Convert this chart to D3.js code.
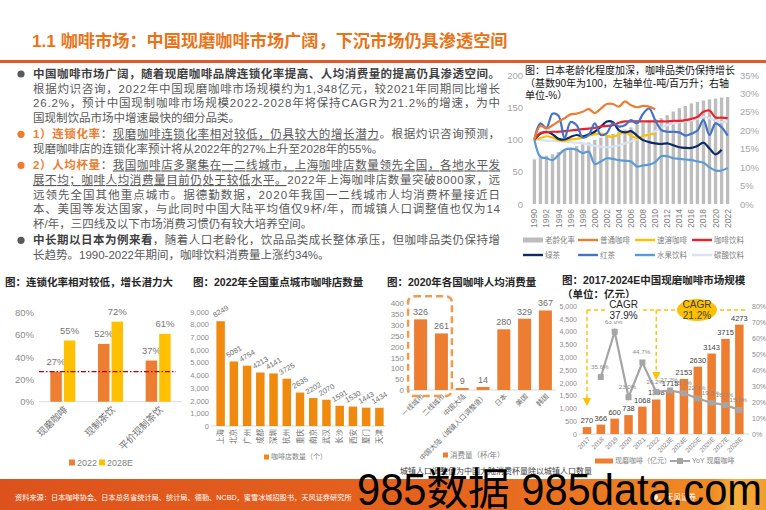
<!DOCTYPE html>
<html><head><meta charset="utf-8">
<script src="https://cdn.jsdelivr.net/npm/d3@7/dist/d3.min.js"></script>
<style>
body{margin:0;background:#fff;}
svg{display:block;font-family:"Liberation Sans","Noto Sans CJK SC",sans-serif;}
</style></head><body>
<svg id="c" width="766" height="510"></svg>
<script>
// ---------------- DATA ----------------
const pageTitle = "1.1 咖啡市场：中国现磨咖啡市场广阔，下沉市场仍具渗透空间";
const paragraphs = [
  {bullet:"#595959", lines:[
    [["中国咖啡市场广阔，随着现磨咖啡品牌连锁化率提高、人均消费量的提高仍具渗透空间。","b"]],
    [["根据灼识咨询，2022年中国现磨咖啡市场规模约为1,348亿元，较2021年同期同比增长","n"]],
    [["26.2%，预计中国现制咖啡市场规模2022-2028年将保持CAGR为21.2%的增速，为中","n"]],
    [["国现制饮品市场中增速最快的细分品类。","n"]]]},
  {bullet:"#ED7D31", lines:[
    [["1）连锁化率","o"],["：","n"],["现磨咖啡连锁化率相对较低，仍具较大的增长潜力","u"],["。根据灼识咨询预测，","n"]],
    [["现磨咖啡店的连锁化率预计将从2022年的27%上升至2028年的55%。","n"]]]},
  {bullet:"#ED7D31", lines:[
    [["2）人均杯量","o"],["：","n"],["我国咖啡店多聚集在一二线城市，上海咖啡店数量领先全国，各地水平发","u"]],
    [["展不均；咖啡人均消费量目前仍处于较低水平。","u"],["2022年上海咖啡店数量突破8000家，远","n"]],
    [["远领先全国其他重点城市。据德勤数据，2020年我国一二线城市人均消费杯量接近日","n"]],
    [["本、美国等发达国家，与此同时中国大陆平均值仅9杯/年，而城镇人口调整值也仅为14","n"]],
    [["杯/年，三四线及以下市场消费习惯仍有较大培养空间。","n"]]]},
  {bullet:"#595959", lines:[
    [["中长期以日本为例来看","b"],["，随着人口老龄化，饮品品类成长整体承压，但咖啡品类仍保持增","n"]],
    [["长趋势。1990-2022年期间，咖啡饮料消费量上涨约34%。","n"]]]}
];

// Japan chart
const jpTitle = ["图：日本老龄化程度加深，咖啡品类仍保持增长","（基数90年为100，左轴单位-吨/百万升；右轴","单位-%）"];
const jpYears = [1990,1991,1992,1993,1994,1995,1996,1997,1998,1999,2000,2001,2002,2003,2004,2005,2006,2007,2008,2009,2010,2011,2012,2013,2014,2015,2016,2017,2018,2019,2020,2021,2022];
const jpYearLabels = [1990,1992,1994,1996,1998,2000,2002,2004,2006,2008,2010,2012,2014,2016,2018,2020,2022];
const agingRate = [12.1,12.6,13.1,13.5,14.1,14.6,15.1,15.7,16.2,16.7,17.4,18.0,18.5,19.0,19.5,20.2,20.8,21.5,22.1,22.7,23.0,23.3,24.1,25.1,26.0,26.6,27.3,27.7,28.1,28.4,28.6,28.9,29.0];
const plainCoffee = [100,121,117,122,128,133,139,140,143,147,141,148,155,155,151,159,153,150,152,151,147,null,null,null,null,null,null,null,null,null,null,null,null];
const instantCoffee = [100,102,105,103,99,98,100,101,103,106,108,109,106,104,108,111,106,102,105,108,108,null,null,null,null,null,null,null,null,null,null,null,null];
const coffeeDrinks = [100,110,111,112,112,113,114,115,116,117,118,120,121,122,126,128,128,128,128,128,128,128,128,129,129,130,132,135,143,145,134,134,133];
const greenTea = [100,109,112,108,101,100,104,107,105,108,112,120,128,127,114,111,113,106,99,96,94,93,94,91,88,87,87,90,95,86,77,84,null];
const blackTea = [100,125,118,140,137,102,127,122,103,107,125,107,110,125,120,122,130,125,140,148,130,115,112,112,111,106,109,114,130,107,125,119,106];
const fruitDrinks = [100,73,71,68,76,84,86,84,79,81,62,66,71,70,68,67,66,58,60,61,65,74,74,71,70,69,68,66,64,57,52,52,56];
const sodaDrinks = [100,99,98,98,97,97,96,95,94,92,90,89,88,89,91,94,97,100,104,108,113,118,122,125,127,128,130,132,135,133,129,127,128];
const jpLeftTicks = [0,50,100,150,200];
const jpRightTicks = [0,5,10,15,20,25,30,35];
const jpSeriesNames = ["老龄化率","普通咖啡","速溶咖啡","咖啡饮料","绿茶","红茶","水果饮料","碳酸饮料"];

// Chart 1
const chainTitle = "图：连锁化率相对较低，增长潜力大";
const chainCats = ["现磨咖啡","现制茶饮","平价现制茶饮"];
const chainKeys = ["2022","2028E"];
const chain2022 = [27,52,37];
const chain2028 = [55,72,61];
const chainTicks = [0,20,40,60,80];
const chainRef = 27;

// Chart 2
const storeTitle = "图：2022年全国重点城市咖啡店数量";
const cities = ["上海","北京","广州","成都","深圳","杭州","重庆","南京","武汉","长沙","西安","厦门","天津"];
const storeCounts = [8249,5081,4754,4213,4141,3725,2635,2202,2070,1591,1530,1443,1434];
const storeTicks = [0,1000,2000,3000,4000,5000,6000,7000,8000,9000];
const storeLegend = "咖啡店数量（个）";

// Chart 3
const cupTitle = "图：2020年各国咖啡人均消费量";
const regions = ["一线城市","二线城市","中国大陆","中国大陆（城镇人口调整值）","日本","美国","韩国"];
const cups = [326,261,9,14,280,329,367];
const cupTicks = [0,50,100,150,200,250,300,350,400];
const cupLegend = "消费量（杯/年）";
const cupNote = "城镇人口调整值为中国大陆消费杯量除以城镇人口数量";

// Chart 4
const mktTitle = ["图：2017-2024E中国现磨咖啡市场规模","（单位：亿元）"];
const mktYears = ["2017","2018","2019","2020","2021","2022","2023E","2024E","2025E","2026E","2027E","2028E"];
const mktSize = [270,366,600,738,1068,1348,1715,2153,2630,3143,3715,4273];
const mktYoY = [null,35.6,63.9,23.0,44.7,26.2,27.2,25.5,22.2,19.5,18.2,15.0];
const mktTicksL = [0,500,1000,1500,2000,2500,3000,3500,4000,4500,5000];
const mktTicksR = [0,10,20,30,40,50,60,70,80];
const mktLegend = ["现磨咖啡（亿元）","YoY 现磨咖啡"];
const cagrA = ["CAGR","37.9%"];
const cagrB = ["CAGR","21.2%"];

const sourceText = "资料来源：日本咖啡协会、日本总务省统计局、统计局、德勤、NCBD，蜜雪冰城招股书，天风证券研究所";
const watermark = "985数据 985data.com";

// ---------------- DRAW ----------------
const FONT = '"Liberation Sans","Noto Sans CJK SC",sans-serif';
const svg = d3.select("#c");
const defs = svg.append("defs");

function styleAxis(g, size, color){
  g.attr("font-family", FONT).attr("font-size", size);
  g.select(".domain").remove();
  g.selectAll("line").remove();
  g.selectAll("text").attr("fill", color);
}

// Title
svg.append("text").attr("x",32).attr("y",47).attr("font-size",17.2).attr("font-weight","bold")
  .attr("fill","#EA7317").text(pageTitle);
svg.append("rect").attr("x",0).attr("y",60).attr("width",766).attr("height",3).attr("fill","#E0592B");

// Paragraphs
(function(){
  const g = svg.append("g").attr("font-size",11.5);
  let y = 78;
  paragraphs.forEach((p, pi) => {
    if (pi > 0) y += 16.5;
    p.lines.forEach((line, li) => {
      if (li > 0) y += 14.6;
      if (li === 0) g.append("circle").attr("cx",21).attr("cy",y-4).attr("r",3.6).attr("fill",p.bullet);
      const t = g.append("text").attr("x",33).attr("y",y);
      if (li < p.lines.length-1) t.attr("textLength",467).attr("lengthAdjust","spacing");
      line.forEach(([s, st]) => {
        const ts = t.append("tspan").text(s);
        if (st === "b") ts.attr("font-weight","bold").attr("fill","#3F3F3F");
        else if (st === "o") ts.attr("font-weight","bold").attr("fill","#ED7D31");
        else if (st === "u") ts.attr("fill","#595959").style("text-decoration","underline");
        else ts.attr("fill","#595959");
      });
    });
  });
})();

// ---------- Japan chart ----------
(function(){
  const g = svg.append("g");
  jpTitle.forEach((t,i)=> g.append("text").attr("x",525).attr("y",[73.5,86.5,98.5][i])
    .attr("font-size",10).attr("fill","#111").text(t));
  const x = d3.scaleBand().domain(jpYears).range([530,732]).padding(0.45);
  const yL = d3.scaleLinear().domain([0,200]).range([204,75]);
  const yR = d3.scaleLinear().domain([0,35]).range([204,75]);
  const cx = d => x(d) + x.bandwidth()/2;
  g.append("g").selectAll("rect").data(jpYears).join("rect")
    .attr("x", d=>x(d)).attr("width", x.bandwidth())
    .attr("y", (d,i)=>yR(agingRate[i])).attr("height",(d,i)=>yR(0)-yR(agingRate[i]))
    .attr("fill","#BDBDBD");
  const series = [
    {v:sodaDrinks, c:"#D9E2F3"},
    {v:fruitDrinks, c:"#5B9BD5"},
    {v:instantCoffee, c:"#FFC000"},
    {v:greenTea, c:"#0E2A66"},
    {v:coffeeDrinks, c:"#F0202A"},
    {v:blackTea, c:"#4472C4"},
    {v:plainCoffee, c:"#ED7D31"}
  ];
  const line = d3.line().defined(d=>d.v!=null).x(d=>cx(d.y)).y(d=>yL(d.v)).curve(d3.curveCatmullRom.alpha(0.5));
  series.forEach(s=>{
    g.append("path").datum(jpYears.map((y,i)=>({y, v:s.v[i]})))
      .attr("d", line).attr("fill","none").attr("stroke",s.c).attr("stroke-width",2.2);
  });
  const aL = g.append("g").attr("transform","translate(526,0)")
    .call(d3.axisLeft(yL).tickValues(jpLeftTicks).tickSize(0).tickPadding(3));
  styleAxis(aL, 9.5, "#A6A6A6");
  const aR = g.append("g").attr("transform","translate(737,0)")
    .call(d3.axisRight(yR).tickValues(jpRightTicks).tickFormat(d=>d+"%").tickSize(0).tickPadding(3));
  styleAxis(aR, 9.5, "#A6A6A6");
  g.append("g").selectAll("text").data(jpYearLabels).join("text")
    .attr("transform", d=>`translate(${cx(d)},209) rotate(-90)`)
    .attr("text-anchor","end").attr("dy","0.35em").attr("font-size",8.5).attr("fill","#808080").text(d=>d);
  // legend
  const cols = [523,578,635,692];
  const lcol = ["#BDBDBD","#ED7D31","#FFC000","#F0202A","#0E2A66","#4472C4","#5B9BD5","#D9E2F3"];
  jpSeriesNames.forEach((n,i)=>{
    const lx = cols[i%4], ly = i<4 ? 240 : 255;
    g.append("rect").attr("x",lx).attr("y", i===0 ? ly-2.5 : ly-1.2).attr("width",20).attr("height", i===0?5:2.4).attr("fill",lcol[i]);
    g.append("text").attr("x",lx+22).attr("y",ly).attr("dy","0.35em").attr("font-size",7.5).attr("fill","#7F7F7F").text(n);
  });
})();

// ---------- Section titles ----------
svg.append("text").attr("x",5).attr("y",286).attr("font-size",10.5).attr("font-weight","bold").attr("fill","#262626").text(chainTitle);
svg.append("text").attr("x",193).attr("y",286).attr("font-size",10.5).attr("font-weight","bold").attr("fill","#262626").text(storeTitle);
svg.append("text").attr("x",387).attr("y",286).attr("font-size",10.5).attr("font-weight","bold").attr("fill","#262626").text(cupTitle);
svg.append("text").attr("x",562).attr("y",284).attr("font-size",10.5).attr("font-weight","bold").attr("fill","#262626").text(mktTitle[0]);
svg.append("text").attr("x",562).attr("y",298).attr("font-size",10.5).attr("font-weight","bold").attr("fill","#262626").text(mktTitle[1]);

// ---------- Chart 1 ----------
(function(){
  const g = svg.append("g");
  const x0 = d3.scaleBand().domain(chainCats).range([39,182]).paddingInner(0.475).paddingOuter(0.2375);
  const x1 = d3.scaleBand().domain(chainKeys).range([0,x0.bandwidth()]).paddingInner(0.15);
  const y = d3.scaleLinear().domain([0,80]).range([401.7,312.7]);
  const colors = {"2022":"#ED7D31","2028E":"#FFC000"};
  const vals = {"2022":chain2022,"2028E":chain2028};
  const ay = g.append("g").attr("transform","translate(37,0)")
    .call(d3.axisLeft(y).tickValues(chainTicks).tickFormat(d=>d+"%").tickSize(0).tickPadding(3));
  styleAxis(ay, 9.5, "#8C8C8C");
  g.append("line").attr("x1",39).attr("x2",182).attr("y1",y(0)).attr("y2",y(0)).attr("stroke","#D9D9D9");
  chainKeys.forEach(k=>{
    g.append("g").selectAll("rect").data(chainCats).join("rect")
      .attr("x", d=>x0(d)+x1(k)).attr("width", x1.bandwidth())
      .attr("y",(d,i)=>y(vals[k][i])).attr("height",(d,i)=>y(0)-y(vals[k][i]))
      .attr("fill",colors[k]);
    g.append("g").selectAll("text").data(chainCats).join("text")
      .attr("x", d=>x0(d)+x1(k)+x1.bandwidth()/2).attr("y",(d,i)=>y(vals[k][i])-7)
      .attr("text-anchor","middle").attr("font-size",9.5).attr("fill","#757575")
      .text((d,i)=>vals[k][i]+"%");
  });
  g.append("line").attr("x1",39).attr("x2",176).attr("y1",y(chainRef)).attr("y2",y(chainRef))
    .attr("stroke","#C00000").attr("stroke-width",1.2).attr("stroke-dasharray","5,2,1.5,2");
  g.append("g").selectAll("text").data(chainCats).join("text")
    .attr("transform", d=>`translate(${x0(d)+x0.bandwidth()/2+3},408) rotate(-45)`)
    .attr("text-anchor","end").attr("dy","0.35em").attr("font-size",9.5).attr("fill","#6F6F6F").text(d=>d);
  chainKeys.forEach((k,i)=>{
    const lx = [69,99][i];
    g.append("rect").attr("x",lx).attr("y",459.5).attr("width",6).attr("height",6).attr("fill",colors[k]);
    g.append("text").attr("x",lx+8).attr("y",462.5).attr("dy","0.35em").attr("font-size",9).attr("fill","#7F7F7F").text(k);
  });
})();

// ---------- Chart 2 ----------
(function(){
  const g = svg.append("g");
  const x = d3.scaleBand().domain(cities).range([214,386]).paddingInner(0.36).paddingOuter(0.18);
  const y = d3.scaleLinear().domain([0,9000]).range([426,311.7]);
  const cx = d => x(d)+x.bandwidth()/2;
  const ay = g.append("g").attr("transform","translate(211,0)")
    .call(d3.axisLeft(y).tickValues(storeTicks).tickSize(0).tickPadding(2));
  styleAxis(ay, 7.5, "#8C8C8C");
  g.append("line").attr("x1",211).attr("x2",386).attr("y1",y(0)).attr("y2",y(0)).attr("stroke","#D9D9D9");
  g.append("g").selectAll("rect").data(cities).join("rect")
    .attr("x", d=>x(d)).attr("width", x.bandwidth())
    .attr("y",(d,i)=>y(storeCounts[i])).attr("height",(d,i)=>y(0)-y(storeCounts[i]))
    .attr("fill","#F08A0E");
  g.append("g").selectAll("text").data(cities).join("text")
    .attr("transform",(d,i)=>`translate(${cx(d)},${y(storeCounts[i])-10}) rotate(-30)`)
    .attr("text-anchor","middle").attr("dy","0.35em").attr("font-size",7.5).attr("fill","#6F6F6F")
    .text((d,i)=>storeCounts[i]);
  g.append("g").selectAll("text").data(cities).join("text")
    .attr("transform", d=>`translate(${cx(d)},429) rotate(-90)`)
    .attr("text-anchor","end").attr("dy","0.35em").attr("font-size",7.5).attr("fill","#6F6F6F").text(d=>d);
  g.append("rect").attr("x",264).attr("y",454.5).attr("width",5).attr("height",5).attr("fill","#F08A0E");
  g.append("text").attr("x",271).attr("y",457).attr("dy","0.35em").attr("font-size",7).attr("fill","#7F7F7F").text(storeLegend);
})();

// ---------- Chart 3 ----------
(function(){
  const g = svg.append("g");
  const x = d3.scaleBand().domain(regions).range([407,559]).paddingInner(0.375).paddingOuter(0.341);
  const y = d3.scaleLinear().domain([0,400]).range([390,303.3]);
  const cx = d => x(d)+x.bandwidth()/2;
  const ay = g.append("g").attr("transform","translate(406,0)")
    .call(d3.axisLeft(y).tickValues(cupTicks).tickSize(0).tickPadding(2));
  styleAxis(ay, 8, "#8C8C8C");
  g.append("line").attr("x1",406).attr("x2",556).attr("y1",y(0)).attr("y2",y(0)).attr("stroke","#D9D9D9");
  g.append("g").selectAll("rect").data(regions).join("rect")
    .attr("x", d=>x(d)).attr("width", x.bandwidth())
    .attr("y",(d,i)=>y(cups[i])).attr("height",(d,i)=>y(0)-y(cups[i]))
    .attr("fill","#ED7D31");
  g.append("g").selectAll("text").data(regions).join("text")
    .attr("x", d=>cx(d)).attr("y",(d,i)=>y(cups[i])-4)
    .attr("text-anchor","middle").attr("font-size",9).attr("fill","#6F6F6F").text((d,i)=>cups[i]);
  g.append("g").selectAll("text").data(regions).join("text")
    .attr("transform", d=>`translate(${cx(d)+2},395) rotate(-45)`)
    .attr("text-anchor","end").attr("dy","0.35em").attr("font-size",7).attr("fill","#6F6F6F").text(d=>d);
  const bx0 = x(regions[0]) - 6, bx1 = x(regions[1]) + x.bandwidth() + 4;
  g.append("rect").attr("x",bx0).attr("y",y(400)-7).attr("width",bx1-bx0).attr("height",y(0)+6-(y(400)-7))
    .attr("rx",6).attr("fill","none").attr("stroke","#F29A4E").attr("stroke-width",2.5).attr("stroke-dasharray","7,4");
  g.append("rect").attr("x",443).attr("y",452.5).attr("width",5).attr("height",5).attr("fill","#ED7D31");
  g.append("text").attr("x",450).attr("y",455).attr("dy","0.35em").attr("font-size",7.5).attr("fill","#7F7F7F").text(cupLegend);
  g.append("text").attr("x",400).attr("y",474).attr("font-size",8).attr("fill","#404040").text(cupNote);
})();

// ---------- Chart 4 ----------
(function(){
  const g = svg.append("g");
  const x = d3.scaleBand().domain(mktYears).range([578,748.3]).paddingInner(0.386).paddingOuter(0.34);
  const yL = d3.scaleLinear().domain([0,5000]).range([434,306]);
  const yR = d3.scaleLinear().domain([0,80]).range([434,306]);
  const cx = d => x(d)+x.bandwidth()/2;
  const aL = g.append("g").attr("transform","translate(579,0)")
    .call(d3.axisLeft(yL).tickValues(mktTicksL).tickSize(0).tickPadding(2));
  styleAxis(aL, 7, "#8C8C8C");
  const aR = g.append("g").attr("transform","translate(750,0)")
    .call(d3.axisRight(yR).tickValues(mktTicksR).tickFormat(d=>d+"%").tickSize(0).tickPadding(2));
  styleAxis(aR, 7, "#8C8C8C");
  g.append("line").attr("x1",579).attr("x2",749).attr("y1",yL(0)).attr("y2",yL(0)).attr("stroke","#D9D9D9");
  g.append("g").selectAll("rect").data(mktYears).join("rect")
    .attr("x", d=>x(d)).attr("width", x.bandwidth())
    .attr("y",(d,i)=>yL(mktSize[i])).attr("height",(d,i)=>yL(0)-yL(mktSize[i]))
    .attr("fill","#ED7D31");
  g.append("g").selectAll("text").data(mktYears).join("text")
    .attr("x", d=>cx(d)).attr("y",(d,i)=>yL(mktSize[i])-4)
    .attr("text-anchor","middle").attr("font-size",7.5).attr("fill","#404040").text((d,i)=>mktSize[i]);
  const pts = mktYears.map((d,i)=>({d, v:mktYoY[i]})).filter(p=>p.v!=null);
  g.append("path").datum(pts).attr("d", d3.line().x(p=>cx(p.d)).y(p=>yR(p.v)))
    .attr("fill","none").attr("stroke","#A5A5A5").attr("stroke-width",2.2);
  g.append("g").selectAll("rect").data(pts).join("rect")
    .attr("x",p=>cx(p.d)-3).attr("y",p=>yR(p.v)-3).attr("width",6).attr("height",6).attr("fill","#A5A5A5");
  g.append("g").selectAll("text").data(pts).join("text")
    .attr("x",p=>cx(p.d)-1).attr("y",p=>yR(p.v)-8)
    .attr("text-anchor","middle").attr("font-size",6.2).attr("fill","#8C8C8C").text(p=>p.v.toFixed(1)+"%");
  g.append("g").selectAll("text").data(mktYears).join("text")
    .attr("transform", d=>`translate(${cx(d)+2},438) rotate(-45)`)
    .attr("text-anchor","end").attr("dy","0.35em").attr("font-size",6.5).attr("fill","#7F7F7F").text(d=>d);
  defs.append("marker").attr("id","arr").attr("viewBox","0 0 10 10").attr("refX",5).attr("refY",5)
    .attr("markerWidth",6).attr("markerHeight",6).attr("orient","auto")
    .append("path").attr("d","M0,0 L10,5 L0,10 z").attr("fill","#FFC000");
  const topY = 310;
  const xa = cx(mktYears[0]), xb = cx(mktYears[5]);
  g.append("line").attr("x1",xa).attr("x2",745).attr("y1",topY).attr("y2",topY)
    .attr("stroke","#FFC000").attr("stroke-width",1.4).attr("stroke-dasharray","4,3");
  g.append("line").attr("x1",xa).attr("x2",xa).attr("y1",topY).attr("y2",402)
    .attr("stroke","#FFC000").attr("stroke-width",1.4).attr("stroke-dasharray","4,3").attr("marker-end","url(#arr)");
  g.append("line").attr("x1",xb).attr("x2",xb).attr("y1",topY).attr("y2",376)
    .attr("stroke","#FFC000").attr("stroke-width",1.4).attr("stroke-dasharray","4,3").attr("marker-end","url(#arr)");
  const ma = (xa+xb)/2 + 2;
  g.append("rect").attr("x",ma-16).attr("y",298).attr("width",32).attr("height",23).attr("fill","#fff");
  g.append("text").attr("x",ma).attr("y",308).attr("text-anchor","middle").attr("font-size",10).attr("fill","#262626").text(cagrA[0]);
  g.append("text").attr("x",ma).attr("y",319).attr("text-anchor","middle").attr("font-size",10).attr("fill","#262626").text(cagrA[1]);
  const mb = 697;
  g.append("ellipse").attr("cx",mb).attr("cy",310).attr("rx",20).attr("ry",11).attr("fill","#FFC000");
  g.append("text").attr("x",mb).attr("y",308).attr("text-anchor","middle").attr("font-size",10).attr("fill","#404040").text(cagrB[0]);
  g.append("text").attr("x",mb).attr("y",318.5).attr("text-anchor","middle").attr("font-size",10).attr("fill","#404040").text(cagrB[1]);
  g.append("rect").attr("x",595).attr("y",458.5).attr("width",18).attr("height",5).attr("fill","#ED7D31");
  g.append("text").attr("x",615).attr("y",461).attr("dy","0.35em").attr("font-size",7).attr("fill","#7F7F7F").text(mktLegend[0]);
  g.append("line").attr("x1",670).attr("x2",690).attr("y1",461).attr("y2",461).attr("stroke","#A5A5A5").attr("stroke-width",2);
  g.append("rect").attr("x",677).attr("y",458).attr("width",6).attr("height",6).attr("fill","#A5A5A5");
  g.append("text").attr("x",692).attr("y",461).attr("dy","0.35em").attr("font-size",7).attr("fill","#7F7F7F").text(mktLegend[1]);
})();

// ---------- Footer ----------
const grad = defs.append("linearGradient").attr("id","fg").attr("x1","0").attr("x2","1").attr("y1","0").attr("y2","0");
[[0,"#DD521C"],[0.6,"#E6641E"],[0.93,"#F08A24"],[0.96,"#F6B13A"],[1,"#F39A2A"]].forEach(s=>
  grad.append("stop").attr("offset",s[0]).attr("stop-color",s[1]));
svg.append("rect").attr("x",0).attr("y",479).attr("width",766).attr("height",31).attr("fill","url(#fg)");
svg.append("text").attr("x",15).attr("y",500).attr("font-size",7.2).attr("fill","#fff").text(sourceText);
svg.append("circle").attr("cx",655).attr("cy",497).attr("r",3).attr("fill","#fff").attr("opacity",0.85);
svg.append("circle").attr("cx",660).attr("cy",502).attr("r",2.5).attr("fill","#fff").attr("opacity",0.85);
svg.append("text").attr("x",666).attr("y",500).attr("font-size",7.5).attr("fill","#fff").text("天风证券");

// watermark
svg.append("text").attr("x",357).attr("y",505).attr("font-size",44).attr("fill","#000")
  .attr("textLength",405).attr("lengthAdjust","spacingAndGlyphs").text(watermark);
</script>
</body></html>
